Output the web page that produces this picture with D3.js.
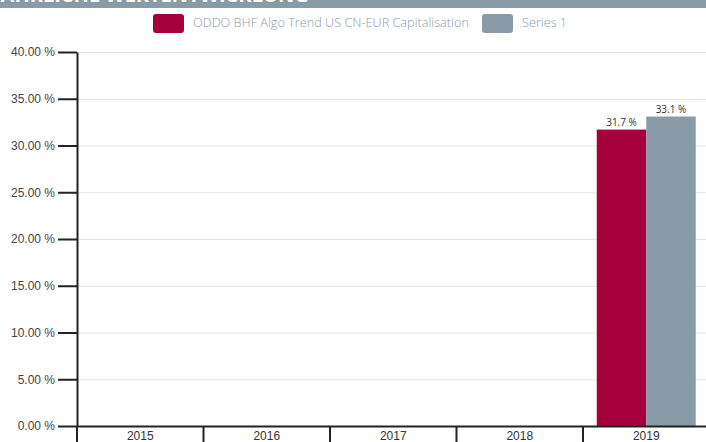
<html>
<head>
  <meta charset="utf-8" />
  <script src="https://cdnjs.cloudflare.com/ajax/libs/d3/7.8.5/d3.min.js"></script>
  <style>
    body { margin: 0; background: #fff; }
    svg { font-family: "Open Sans", "Noto Sans", sans-serif; display: block; }
    .grid line { stroke: #e3e3e3; }
    .grid path.domain { stroke: none; }
  </style>
</head>
<body>
  <svg></svg>
  <script>
  var years = ["2015", "2016", "2017", "2018", "2019"];
  var seriesNames = ["ODDO BHF Algo Trend US CN-EUR Capitalisation", "Series 1"];
  var fundValues = [null, null, null, null, 31.7];
  var seriesOneValues = [null, null, null, null, 33.1];
  var yTicks = [0, 5, 10, 15, 20, 25, 30, 35, 40];
  var colors = ["#a5003c", "#8a9ba8"];

  var width = 706, height = 442;
  var svg = d3.select("svg").attr("width", width).attr("height", height);

  // title band (mostly cut off at the top)
  svg.append("rect").attr("x", 0).attr("y", 0).attr("width", width).attr("height", 8).attr("fill", "#8a9ba8");
  svg.append("text").attr("x", -6).attr("y", 2)
      .attr("fill", "#fff").style("font-weight", "bold").style("font-size", "20px")
      .text("JÄHRLICHE WERTENTWICKLUNG");

  var x = d3.scaleBand().domain(years).range([77, 709.5]);
  var xInner = d3.scaleBand().domain([0, 1]).range([0, x.bandwidth()]).paddingInner(0).paddingOuter(0.278);
  var y = d3.scaleLinear().domain([0, 40]).range([426, 52]);

  // gridlines
  svg.append("g").attr("class", "grid")
      .attr("transform", "translate(77,0)")
      .call(d3.axisRight(y).tickValues(yTicks).tickSize(width).tickFormat(""));

  // y axis
  var yAxis = svg.append("g").attr("transform", "translate(77,0)")
      .call(d3.axisLeft(y).tickValues(yTicks).tickSize(19).tickSizeOuter(0).tickPadding(3)
        .tickFormat(d => d3.format(".2f")(d) + " %"));
  yAxis.select(".domain").attr("stroke", "#222").attr("stroke-width", 2);
  yAxis.selectAll(".tick line").attr("stroke", "#222").attr("stroke-width", 2);
  yAxis.selectAll(".tick text").attr("fill", "#444").style("font-size", "12px");

  // bars
  var table = years.map((yr, i) => ({ year: yr, values: [fundValues[i], seriesOneValues[i]] }));
  var groups = svg.append("g").selectAll("g").data(table).join("g")
      .attr("transform", d => "translate(" + x(d.year) + ",0)");
  groups.selectAll("rect").data(d => d.values.map((v, k) => ({ k: k, v: v })).filter(e => e.v != null))
    .join("rect")
      .attr("x", e => xInner(e.k))
      .attr("width", xInner.bandwidth())
      .attr("y", e => y(e.v))
      .attr("height", e => y(0) - y(e.v))
      .attr("fill", e => colors[e.k]);
  groups.selectAll("text.lbl").data(d => d.values.map((v, k) => ({ k: k, v: v })).filter(e => e.v != null))
    .join("text").attr("class", "lbl")
      .attr("x", e => xInner(e.k) + xInner.bandwidth() / 2)
      .attr("y", e => y(e.v) - 4)
      .attr("text-anchor", "middle")
      .attr("fill", "#333").style("font-size", "10px")
      .text(e => e.v.toFixed(1) + " %");

  // x axis
  var xAxis = svg.append("g").attr("transform", "translate(0,426)")
      .call(d3.axisBottom(x).tickSize(0).tickSizeOuter(0).tickPadding(5));
  xAxis.select(".domain").attr("stroke", "#222").attr("stroke-width", 2);
  xAxis.selectAll(".tick text").attr("fill", "#333").style("font-size", "12px");
  xAxis.selectAll("line.sep").data(years).join("line").attr("class", "sep")
      .attr("x1", d => x(d)).attr("x2", d => x(d))
      .attr("y1", 0).attr("y2", 20)
      .attr("stroke", "#222").attr("stroke-width", 2);

  // legend
  var legendX = [153, 482];
  var legend = svg.append("g").selectAll("g").data(seriesNames).join("g")
      .attr("transform", (d, i) => "translate(" + legendX[i] + ",14)");
  legend.append("rect").attr("width", 31).attr("height", 19).attr("rx", 3)
      .attr("fill", (d, i) => colors[i]);
  legend.append("text").attr("x", 40).attr("y", 13)
      .attr("fill", "#8a9ba8").style("font-size", "12.7px").style("font-weight", 300)
      .text(d => d);
  </script>
</body>
</html>
